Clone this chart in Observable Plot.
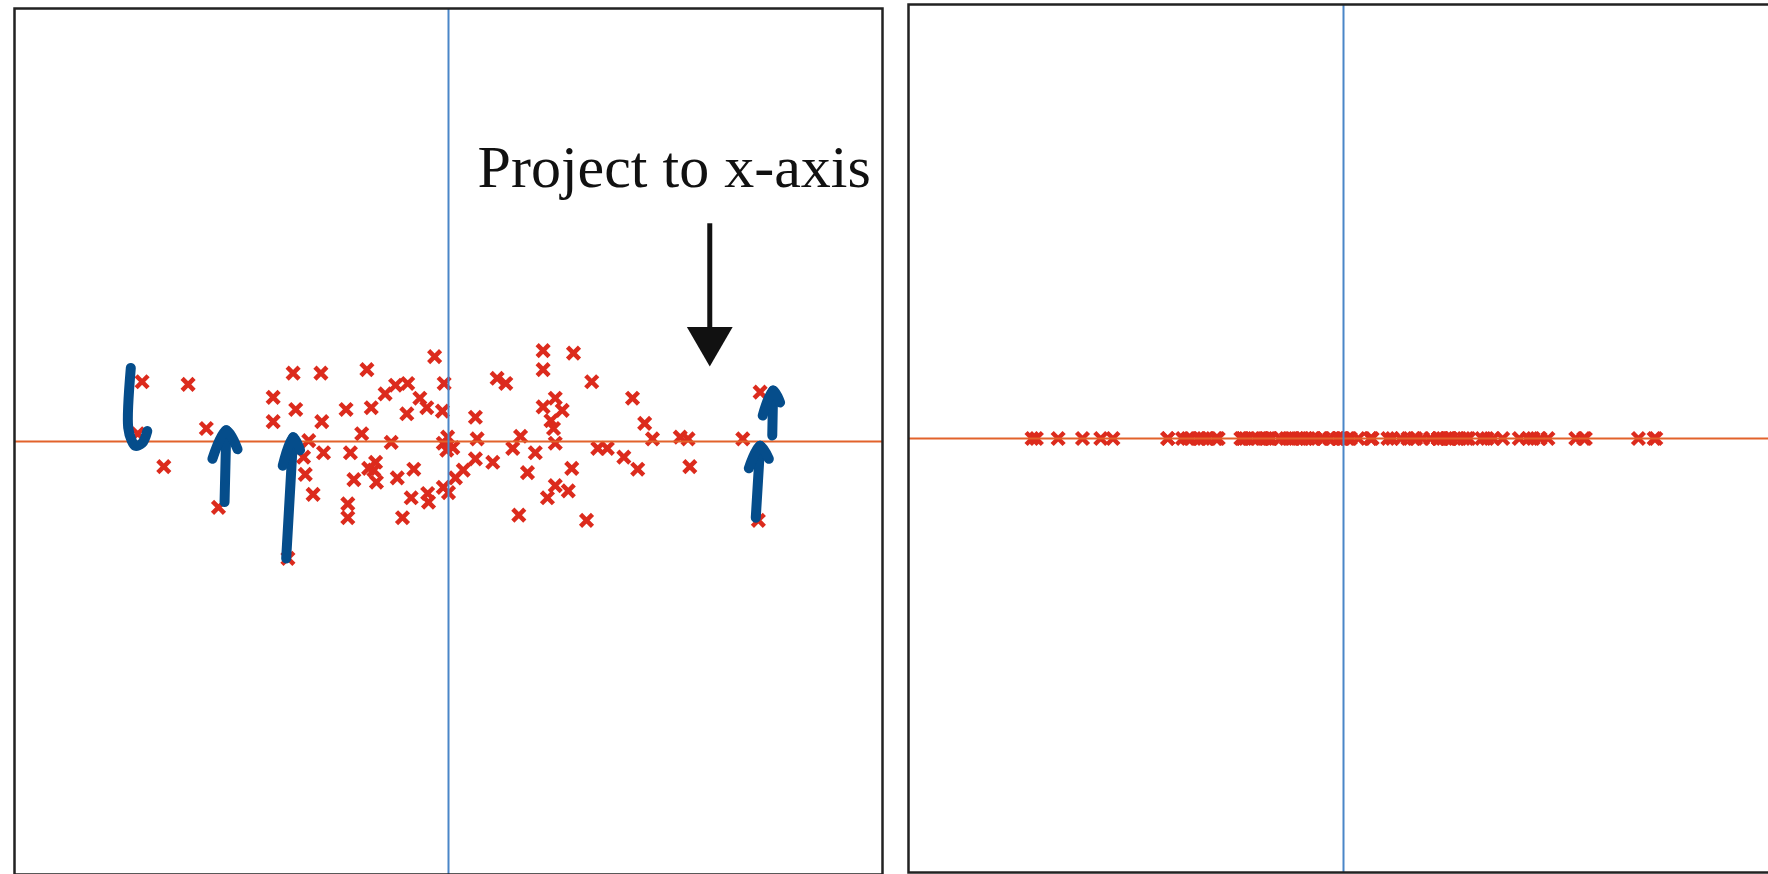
<!DOCTYPE html>
<html>
<head>
<meta charset="utf-8">
<script src="https://cdn.jsdelivr.net/npm/d3@7"></script>
<script src="https://cdn.jsdelivr.net/npm/@observablehq/plot@0.6"></script>
<style>
  html, body { margin: 0; padding: 0; background: #fff; }
  body { width: 1768px; height: 874px; overflow: hidden; position: relative; }
  #left { position: absolute; left: 12px; top: 6px; width: 872px; }
  #right { position: absolute; left: 906px; top: 2px; width: 874px; }
  #left svg, #right svg { max-width: none !important; }
</style>
</head>
<body>
<div id="left"></div>
<div id="right"></div>
<script>
// ---- Data points (original 2-D cloud) ----
const pointX = [-3.53,-3.00,-3.28,-2.79,-2.65,-3.58,-1.85,-2.02,-1.79,-1.47,-1.76,-2.02,-1.46,-1.61,-1.67,-1.44,-1.65,-1.56,-1.18,-0.94,-0.89,-1.00,-1.13,-1.09,-1.16,-1.16,-0.86,-0.83,-0.84,-0.59,-0.40,-0.43,-0.53,-0.66,-0.73,-0.61,-0.47,-0.33,-0.25,-0.48,-0.16,-0.05,-0.07,-0.24,-0.23,-0.06,0.00,0.08,-0.06,-0.01,0.05,-0.02,
  1.09,1.09,1.44,0.56,0.66,1.65,0.31,0.33,0.31,0.51,0.17,0.83,0.74,1.00,0.91,1.23,1.09,1.31,1.18,1.21,1.23,1.42,1.23,1.14,1.38,0.81,1.59,1.72,1.83,2.02,2.18,2.12,2.26,2.35,2.67,2.76,2.78,3.39,3.59,3.57,-0.92];
const pointY = [0.69,0.66,-0.29,0.15,-0.76,0.09,-1.35,0.51,0.79,0.79,0.37,0.23,0.23,0.01,-0.18,-0.13,-0.38,-0.61,0.37,0.83,0.39,0.09,-0.13,-0.44,-0.72,-0.88,-0.33,-0.47,-0.24,-0.42,-0.32,-0.65,-0.88,-0.01,0.55,0.65,0.67,0.50,0.39,0.32,0.98,0.67,0.35,-0.60,-0.70,-0.53,-0.59,-0.42,-0.02,0.05,-0.07,-0.10,
  1.05,0.83,1.02,0.73,0.67,0.69,0.28,0.03,-0.20,-0.24,-0.33,0.06,-0.08,-0.13,-0.36,0.50,0.40,0.36,0.24,0.15,-0.02,-0.31,-0.51,-0.65,-0.57,-0.85,-0.91,-0.08,-0.08,-0.18,-0.32,0.50,0.21,0.03,0.05,0.03,-0.29,0.03,0.57,-0.91,-0.31];

// ---- Hand-drawn blue annotation strokes (data coordinates) ----
const strokeIds = ["hook","b","bh","c","ch","d","dh","e","eh"];
const strokeXs = [
  [-3.66,-3.69,-3.65,-3.61,-3.53,-3.47],
  [-2.58,-2.56], [-2.72,-2.56,-2.43],
  [-1.87,-1.79], [-1.91,-1.79,-1.71],
  [3.54,3.59], [3.46,3.59,3.69],
  [3.73,3.74], [3.62,3.74,3.82]
];
const strokeYs = [
  [0.85,0.16,0.01,-0.05,-0.02,0.12],
  [-0.70,0.13], [-0.20,0.13,-0.09],
  [-1.35,0.05], [-0.28,0.05,-0.10],
  [-0.88,-0.05], [-0.31,-0.05,-0.20],
  [0.07,0.59], [0.30,0.59,0.45]
];

// ---- Text annotation & black arrow ----
const labelText = ["Project to x-axis"];
const labelPos = [2.60, 3.16];
const blackArrowX = 3.01;
const blackArrowY = [2.52, 1.17];

const domain = [-5, 5];
const red = "#dc2b1d";
const orange = "#e2622b";
const blue = "#4a86c8";
const navy = "#054d8b";

const points = pointX.map((x, i) => ({x, y: pointY[i]}));
const projected = pointX.map(x => ({x, y: 0}));
const strokes = strokeIds.flatMap((id, i) => strokeXs[i].map((x, j) => ({id, x, y: strokeYs[i][j]})));

const common = {
  x: {domain, axis: null},
  y: {domain, axis: null},
  marginLeft: 2, marginRight: 2, marginTop: 2, marginBottom: 2,
  style: {background: "transparent", overflow: "visible", maxWidth: "none"}
};

const left = Plot.plot({
  ...common,
  width: 872, height: 870,
  marks: [
    Plot.dot(points, {x: "x", y: "y", symbol: "times", r: 5.5, stroke: red, strokeWidth: 4.5}),
    Plot.ruleY([0], {stroke: orange, strokeWidth: 2}),
    Plot.ruleX([0], {stroke: blue, strokeWidth: 2}),
    Plot.line(strokes, {x: "x", y: "y", z: "id", stroke: navy, strokeWidth: 10, strokeLinecap: "round", strokeLinejoin: "round", curve: "catmull-rom"}),
    Plot.link([0], {x1: () => blackArrowX, x2: () => blackArrowX, y1: () => blackArrowY[0], y2: () => blackArrowY[1], stroke: "#111", strokeWidth: 5}),
    Plot.dot([0], {x: () => blackArrowX, y: () => blackArrowY[1], symbol: "triangle", r: 17, fill: "#111", rotate: 180}),
    Plot.text(labelText, {x: () => labelPos[0], y: () => labelPos[1], text: d => d, fontSize: 60, fontFamily: "Liberation Serif, Times New Roman, serif", fill: "#111", textAnchor: "middle"}),
    Plot.frame({stroke: "#222", strokeWidth: 2.5})
  ]
});
document.getElementById("left").appendChild(left);

const right = Plot.plot({
  ...common,
  width: 874, height: 872,
  marks: [
    Plot.dot(projected, {x: "x", y: "y", symbol: "times", r: 5.5, stroke: red, strokeWidth: 4.5}),
    Plot.ruleY([0], {stroke: orange, strokeWidth: 2}),
    Plot.ruleX([0], {stroke: blue, strokeWidth: 2}),
    Plot.frame({stroke: "#222", strokeWidth: 2.5})
  ]
});
document.getElementById("right").appendChild(right);
</script>
</body>
</html>
